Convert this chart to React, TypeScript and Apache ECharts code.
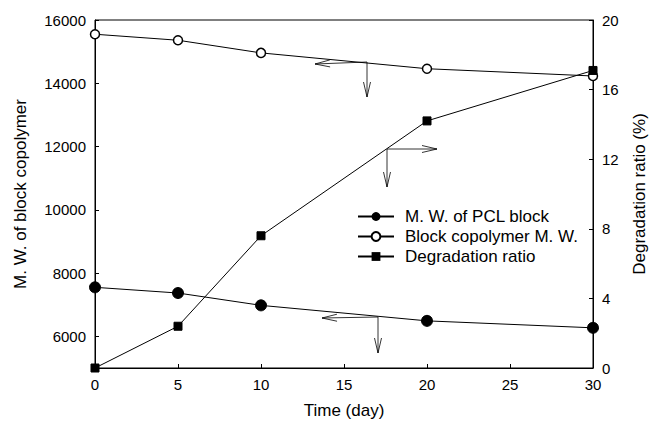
import React, { useEffect, useRef } from "react";
import * as echarts from "echarts";

const days = [0, 5, 10, 20, 30];
const pclBlockMW = [7550, 7370, 6980, 6490, 6270];
const copolymerMW = [15550, 15360, 14960, 14460, 14230];
const degradationRatio = [0, 2.4, 7.6, 14.2, 17.1];
const leftTicks = [6000, 8000, 10000, 12000, 14000, 16000];

const FONT = "'Liberation Sans', Arial, sans-serif";

function arrow(x1: number, y1: number, x2: number, y2: number) {
  const dx = x2 - x1;
  const dy = y2 - y1;
  const len = Math.sqrt(dx * dx + dy * dy);
  const ux = dx / len;
  const uy = dy / len;
  const hl = 15;
  const hw = 3.5;
  const bx = x2 - ux * hl;
  const by = y2 - uy * hl;
  return [
    {
      type: "line",
      shape: { x1, y1, x2, y2 },
      style: { stroke: "#000", lineWidth: 0.8 },
      silent: true,
    },
    {
      type: "polyline",
      shape: {
        points: [
          [bx - uy * hw, by + ux * hw],
          [x2, y2],
          [bx + uy * hw, by - ux * hw],
        ],
      },
      style: { stroke: "#000", lineWidth: 0.8, fill: "none" },
      silent: true,
    },
  ];
}

export default function App() {
  const ref = useRef<HTMLDivElement>(null);
  useEffect(() => {
    document.body.style.margin = "0";
    if (!ref.current) return;
    const chart = echarts.init(ref.current, null, { renderer: "svg" });
    const plain = (v: number) => String(v);
    const axisCommon = {
      axisLine: { show: true, lineStyle: { color: "#000", width: 1 } },
      axisTick: { show: true, inside: true, length: 4, lineStyle: { color: "#000" } },
      splitLine: { show: false },
      axisLabel: { color: "#000", fontSize: 15, fontFamily: FONT, formatter: plain },
      nameTextStyle: { color: "#000", fontSize: 17, fontFamily: FONT },
    };
    chart.setOption({
      animation: false,
      backgroundColor: "#fff",
      grid: {
        left: 95,
        right: 57,
        top: 20,
        bottom: 57,
        outerBoundsMode: "none",
        containLabel: false,
        show: true,
        borderColor: "#000",
        borderWidth: 1,
        backgroundColor: "transparent",
      },
      legend: {
        orient: "vertical",
        left: 357,
        top: 208,
        itemWidth: 36,
        itemHeight: 11,
        itemGap: 3,
        padding: 0,
        textStyle: { color: "#000", fontSize: 17, fontFamily: FONT, padding: [0, 0, 0, 6] },
        data: ["M. W. of PCL block", "Block copolymer M. W.", "Degradation ratio"],
      },
      xAxis: {
        type: "value",
        min: 0,
        max: 30,
        interval: 5,
        name: "Time (day)",
        nameLocation: "middle",
        nameGap: 34,
        ...axisCommon,
        axisLabel: { ...axisCommon.axisLabel, margin: 9 },
      },
      yAxis: [
        {
          type: "value",
          min: 5000,
          max: 16000,
          name: "M. W. of block copolymer",
          nameLocation: "middle",
          nameGap: 66,
          ...axisCommon,
          axisTick: { ...axisCommon.axisTick, customValues: leftTicks },
          axisLabel: { ...axisCommon.axisLabel, margin: 9, customValues: leftTicks },
        },
        {
          type: "value",
          min: 0,
          max: 20,
          interval: 4,
          position: "right",
          name: "Degradation ratio (%)",
          nameLocation: "middle",
          nameRotate: 90,
          nameGap: 38,
          ...axisCommon,
          axisLabel: { ...axisCommon.axisLabel, margin: 9 },
        },
      ],
      series: [
        {
          name: "M. W. of PCL block",
          type: "line",
          yAxisIndex: 0,
          data: days.map((d, i) => [d, pclBlockMW[i]]),
          symbol: "circle",
          symbolSize: 11,
          itemStyle: { color: "#000", borderColor: "#000" },
          lineStyle: { color: "#000", width: 1 },
        },
        {
          name: "Block copolymer M. W.",
          type: "line",
          yAxisIndex: 0,
          data: days.map((d, i) => [d, copolymerMW[i]]),
          symbol: "circle",
          symbolSize: 9,
          itemStyle: { color: "#fff", borderColor: "#000", borderWidth: 1.5 },
          lineStyle: { color: "#000", width: 1 },
        },
        {
          name: "Degradation ratio",
          type: "line",
          yAxisIndex: 1,
          data: days.map((d, i) => [d, degradationRatio[i]]),
          symbol: "rect",
          symbolSize: 8,
          itemStyle: { color: "#000", borderColor: "#000" },
          lineStyle: { color: "#000", width: 1 },
          z: 3,
        },
      ],
      graphic: [
        ...arrow(367, 62, 315, 64),
        ...arrow(367, 62, 367, 97),
        ...arrow(387, 149, 437, 149),
        ...arrow(387, 149, 387, 187),
        ...arrow(378, 317, 322, 318),
        ...arrow(378, 317, 378, 353),
      ],
    });
    return () => chart.dispose();
  }, []);
  return <div ref={ref} style={{ width: 650, height: 425 }} />;
}
